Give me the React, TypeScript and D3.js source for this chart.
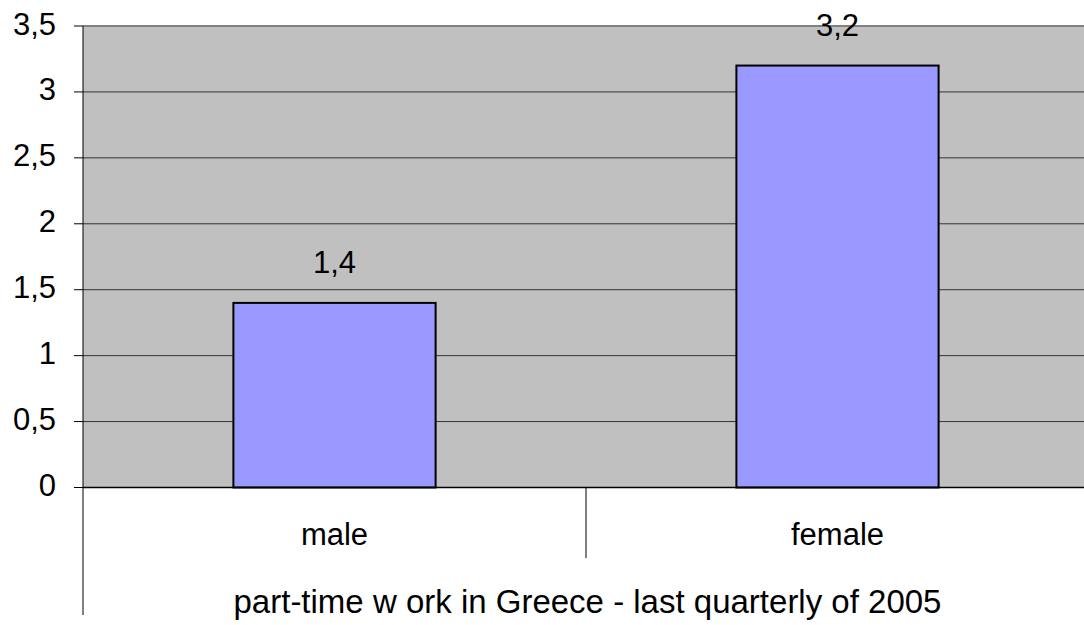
import React from "react";
import * as d3 from "d3";

const categories = ["male", "female"];
const values = [1.4, 3.2];
const yTicks = [0, 0.5, 1, 1.5, 2, 2.5, 3, 3.5];
const axisTitle = "part-time w ork in Greece - last quarterly of 2005";

const W = 1084;
const H = 625;
const FONT = "'Liberation Sans', Arial, sans-serif";
const FS = 31;

const fmt = (v: number) => String(v).replace(".", ",");

export default function App() {
  const left = 83;
  const right = 1089;
  const top = 26;
  const bottom = 487.5;

  const x = d3.scaleBand<string>().domain(categories).range([left, right]).paddingInner(0).paddingOuter(0);
  const y = d3.scaleLinear().domain([0, 3.5]).range([bottom, top]);
  const bw = x.bandwidth();
  const barW = bw * 0.402;

  return (
    <div style={{ position: "fixed", left: 0, top: 0 }}>
      <svg width={W} height={H} style={{ display: "block", background: "#fff" }} fontFamily={FONT}>
        {/* plot area */}
        <rect x={left} y={top} width={right - left} height={bottom - top} fill="#C0C0C0" />
        {/* horizontal gridlines */}
        {yTicks.filter((t) => t > 0 && t < 3.5).map((t) => (
          <line key={t} x1={left} x2={right} y1={y(t)} y2={y(t)} stroke="#333" strokeWidth={1} />
        ))}
        <line x1={left} x2={right} y1={y(3.5)} y2={y(3.5)} stroke="#808080" strokeWidth={2} />
        {/* bars */}
        {categories.map((c, i) => {
          const cx = (x(c) as number) + bw / 2;
          return (
            <g key={c}>
              <rect
                x={cx - barW / 2}
                y={y(values[i])}
                width={barW}
                height={y(0) - y(values[i])}
                fill="#9999FF"
                stroke="#000"
                strokeWidth={2}
              />
              <text x={cx} y={y(values[i]) - 30} textAnchor="middle" fontSize={FS} fill="#000">
                {fmt(values[i])}
              </text>
              <text x={cx} y={545} textAnchor="middle" fontSize={FS} fill="#000">
                {c}
              </text>
            </g>
          );
        })}
        {/* y axis */}
        <line x1={left} x2={left} y1={top} y2={615} stroke="#000" strokeWidth={1} />
        {yTicks.map((t) => (
          <g key={t}>
            <line x1={74} x2={left} y1={y(t)} y2={y(t)} stroke="#000" strokeWidth={1} />
            <text x={56} y={y(t) + 8.5} textAnchor="end" fontSize={FS} fill="#000">
              {fmt(t)}
            </text>
          </g>
        ))}
        {/* x axis */}
        <line x1={left} x2={right} y1={y(0)} y2={y(0)} stroke="#000" strokeWidth={1.5} />
        {categories.slice(1).map((c) => (
          <line key={c} x1={x(c) as number} x2={x(c) as number} y1={y(0)} y2={558} stroke="#000" strokeWidth={1} />
        ))}
        <text x={587.5} y={613} textAnchor="middle" fontSize={33} fill="#000">
          {axisTitle}
        </text>
      </svg>
    </div>
  );
}
